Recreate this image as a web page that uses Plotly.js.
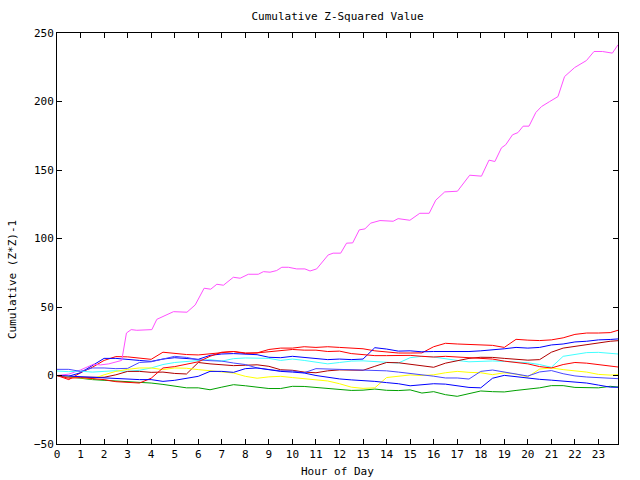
<!DOCTYPE html>
<html>
<head>
<meta charset="utf-8">
<script src="https://cdn.plot.ly/plotly-3.0.1.min.js"></script>
<style>html,body{margin:0;padding:0;background:#fff;}#chart{width:640px;height:480px;}</style>
</head>
<body>
<div id="chart"></div>
<script>
// Hour grid (half-hour samples) shared by the low-valued series
const hours = [0,0.5,1,1.5,2,2.5,3,3.5,4,4.5,5,5.5,6,6.5,7,7.5,8,8.5,9,9.5,10,10.5,11,11.5,12,12.5,13,13.5,14,14.5,15,15.5,16,16.5,17,17.5,18,18.5,19,19.5,20,20.5,21,21.5,22,22.5,23,23.5,23.83];

const red1 = [0,-3,2,6,11,13.8,13.6,12.8,11.8,17,16,15.3,15,16,17,17.5,16,16.5,19,20,20,21,20.5,21,20.5,20,19.5,18,17,16.4,16.4,16.5,21,23.5,23,22.5,22.5,22,20.5,26.4,25.8,25.5,26,27.5,30,31,31,31.3,33];
const red2 = [0,-2,-1.5,-2,-3,-4.5,-5,-5.5,-2,5.5,6.5,8,10,14,17,17.5,16.5,16.5,17.5,18.5,19,18.5,18.5,17.5,17.8,16,15,14.5,14.5,14.5,14.7,14,13.5,14,13.5,12.5,12.3,12,10.5,9.5,8.5,6.5,5.5,8,9.5,9,8,7,6.2];
const blueA = [0,-0.5,2,7,12.5,12.5,12,11,10.3,12,13,12.5,11.8,14.7,15.7,16,15.7,15.2,13.3,13,14,13.3,12.8,11.6,12,11.6,12,20.3,19.3,17.8,18,17.3,17.5,17.4,17.4,17.5,18,18.6,19.5,20.5,20,20.5,22.3,23,24.5,25,26,26.3,26.7];
const darkRed = [0,-1,-1.3,-1.3,-1.3,0.5,3,3,2.3,2.5,1.5,1.1,9.5,8.5,7.8,7.2,7.5,7.8,6.7,4.2,3.8,2.5,2,3.4,4.1,4.1,3.8,6.7,9.5,9.3,8.3,7,6,9,10.5,12.5,13.3,13.2,12.5,11.8,11.2,11.6,17,20,21.3,22.8,24,25,25.4];
const cyan = [3.3,2.8,3.2,2.5,3,3.5,3,3.8,5.5,8,9.5,10.3,11,11.6,10.5,12.3,12.8,12.8,12.5,11,12,11,9.8,8.5,9.5,10.5,10.7,10,9.5,9.1,13,14,13.5,12,11,10,10.5,10.6,10.3,10,9.3,8,6,14,15.2,16.7,16.9,16.5,15.7];
const slateBlue = [4.5,4.5,3,5.5,5.5,5,5.2,9.5,10,12,14,13.2,11.5,10.8,10.5,9.1,8,5.5,4.2,3.3,3.3,2,5,4.8,4.5,4.3,4.2,3.8,3.4,2.5,1.6,0.7,-0.5,-1.8,-1.8,-2.6,3,4,2.6,1.3,-0.4,2.6,3.6,1.3,-0.3,-1.1,-1.6,-2,-2.3];
const yellow = [0,-1,-2,-2.5,0.5,3,4.5,5.5,5.5,4.3,5.5,5.3,4.3,3.5,3,1.8,-0.6,-2,-1,-0.6,-1.5,-2.3,-3,-4,-6,-8.5,-9.4,-9,-1.5,-0.5,0.4,0,0.5,2,3,2.3,2,0.6,2,1,-1,4.7,5.5,4.3,3.3,2.5,0.8,0.3,0.6];
const blueB = [0,-0.5,-1,-1.5,-2,-2.5,-2.8,-3,-3,-4.3,-3.5,-2,-0.6,3,3,2.3,5,5.5,4.3,3,2.5,1.8,0,-1.3,-2.5,-3.2,-3.5,-4.3,-5.2,-6,-7.5,-7,-6,-6.3,-7.5,-8.7,-9,-2,0.1,-1,-1.8,-2.8,-3.4,-4.1,-5,-5.5,-7,-8.5,-8.6];
const green = [0,-1,-2.5,-3,-3.5,-4,-4.3,-4.6,-5.5,-6.5,-8,-9,-9,-10.4,-8.5,-6.7,-7.5,-8.7,-9.5,-9.5,-7.9,-8,-8.8,-9.7,-10.2,-10.9,-10.7,-9.9,-10.8,-11,-10.5,-12.8,-11.8,-14,-15.2,-13,-11.3,-11.8,-12,-10.9,-10,-9,-7.4,-7.4,-8.7,-9.1,-9,-7.9,-8.4];

// The strongly rising series, read at its visible corners
const magentaHours = [0,0.5,0.99,1.3,1.55,1.84,2.2,2.55,2.75,2.95,3.15,3.39,4.03,4.24,4.95,5.52,5.87,6.25,6.53,6.79,7.07,7.49,7.78,8.13,8.55,8.77,9.05,9.33,9.55,9.83,10.18,10.53,10.75,11.03,11.52,11.73,12.05,12.3,12.56,12.84,13.08,13.32,13.72,14.28,14.49,14.99,15.41,15.81,16.09,16.47,17.01,17.53,18.03,18.35,18.6,18.88,19.06,19.35,19.58,19.8,20.05,20.34,20.58,20.93,21.28,21.56,21.99,22.49,22.81,23.17,23.59,23.83];
const magentaValues = [0,1,4,6,8.2,7.7,8.5,10.1,11,31,33.5,33,33.5,41,46.6,46.2,51.5,63.7,63,66.6,65.9,71.7,71,73.9,73.9,75.8,75.4,76.6,79,79,77.8,77.8,76.3,77.8,88,89.3,89.3,96.6,96.8,106.3,107,111.2,113.1,112.6,114.5,113.3,118.4,118.4,128,134,134.5,146.2,145.5,157.2,156.2,166.2,168.4,175.7,177.3,182,182,192,196.3,200,203.6,218.2,224.8,229.9,236.5,236.5,235.3,241.4];

const xTickVals = [0,1,2,3,4,5,6,7,8,9,10,11,12,13,14,15,16,17,18,19,20,21,22,23];
const yTickVals = [-50,0,50,100,150,200,250];

const chartTitle = 'Cumulative Z-Squared Value';
const xLabel = 'Hour of Day';
const yLabel = 'Cumulative (Z*Z)-1';

const FONT = 'DejaVu Sans Mono, Liberation Mono, monospace';

function line(x, y, color) {
  return {x: x, y: y, type: 'scatter', mode: 'lines', line: {color: color, width: 1}, hoverinfo: 'skip'};
}

const data = [
  line(hours, red1, '#ff0000'),
  line(hours, green, '#00a000'),
  line(hours, blueA, '#0000ff'),
  line(magentaHours, magentaValues, '#ff50ff'),
  line(hours, cyan, '#40ffff'),
  line(hours, darkRed, '#b00000'),
  line(hours, yellow, '#ffff00'),
  line(hours, slateBlue, '#4848ff'),
  line(hours, red2, '#ff0000'),
  line(hours, blueB, '#0000ff')
];

const axisCommon = {
  showline: true, linecolor: '#000', linewidth: 1, mirror: 'ticks',
  ticks: 'inside', ticklen: 5, tickwidth: 1, tickcolor: '#000',
  showgrid: false, zeroline: false,
  tickfont: {family: FONT, size: 11, color: '#000'}
};

const layout = {
  width: 640, height: 480,
  margin: {l: 57, r: 22, t: 33, b: 36, pad: 0},
  paper_bgcolor: '#fff', plot_bgcolor: '#fff',
  showlegend: false,
  font: {family: FONT, size: 11, color: '#000'},
  title: {text: chartTitle, x: 0.5, xref: 'paper', xanchor: 'center',
          y: 1 - 16/480, yref: 'container', yanchor: 'middle',
          font: {family: FONT, size: 11, color: '#000'}},
  xaxis: Object.assign({}, axisCommon, {range: [0, 23.83], tickmode: 'array', tickvals: xTickVals}),
  yaxis: Object.assign({}, axisCommon, {range: [-50, 250], tickmode: 'array', tickvals: yTickVals}),
  annotations: [
    {text: xLabel, xref: 'paper', yref: 'paper', x: 0.5, y: (444 - 471) / 411,
     xanchor: 'center', yanchor: 'middle', showarrow: false,
     font: {family: FONT, size: 11, color: '#000'}},
    {text: yLabel, xref: 'paper', yref: 'paper', x: (12 - 57) / 561, y: (444 - 280) / 411,
     xanchor: 'center', yanchor: 'middle', textangle: -90, showarrow: false,
     font: {family: FONT, size: 11, color: '#000'}}
  ]
};

Plotly.newPlot('chart', data, layout, {staticPlot: true, displayModeBar: false});
</script>
</body>
</html>
